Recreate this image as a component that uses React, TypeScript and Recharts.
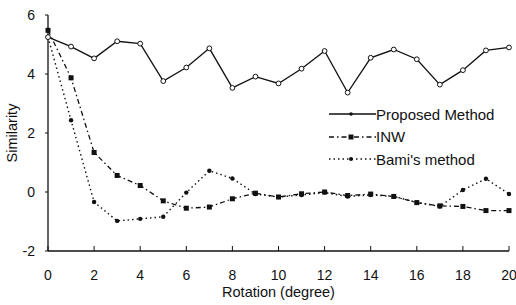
import React from 'react';
import { LineChart, Line, XAxis, YAxis, Legend, Label } from 'recharts';

const rotations = [0, 1, 2, 3, 4, 5, 6, 7, 8, 9, 10, 11, 12, 13, 14, 15, 16, 17, 18, 19, 20];
const proposed = [5.25, 4.93, 4.53, 5.11, 5.03, 3.76, 4.22, 4.87, 3.53, 3.91, 3.68, 4.18, 4.78, 3.37, 4.55, 4.83, 4.5, 3.64, 4.13, 4.8, 4.9];
const inw = [5.48, 3.87, 1.34, 0.56, 0.22, -0.3, -0.55, -0.51, -0.23, -0.04, -0.17, -0.06, 0.0, -0.12, -0.07, -0.15, -0.36, -0.47, -0.49, -0.63, -0.63];
const bami = [5.25, 2.43, -0.34, -0.98, -0.91, -0.84, -0.02, 0.72, 0.46, -0.07, -0.17, -0.1, -0.02, -0.15, -0.1, -0.15, -0.35, -0.49, 0.07, 0.45, -0.07];
const xTicks = [0, 2, 4, 6, 8, 10, 12, 14, 16, 18, 20];
const yTicks = [-2, 0, 2, 4, 6];
const seriesNames = ['Proposed Method', 'INW', "Bami's method"];

const data = rotations.map((r, i) => ({ r, proposed: proposed[i], inw: inw[i], bami: bami[i] }));

const INK = '#111';
const FONT = '"Liberation Sans", Arial, sans-serif';

const OpenDot = (p: any) => (
  <circle key={p.index} cx={p.cx} cy={p.cy} r={2.4} fill="#fff" stroke={INK} strokeWidth={1} />
);
const SquareDot = (p: any) => (
  <rect key={p.index} x={p.cx - 2.5} y={p.cy - 2.5} width={5} height={5} fill={INK} />
);
const FillDot = (p: any) => (
  <circle key={p.index} cx={p.cx} cy={p.cy} r={2.2} fill={INK} />
);

const legendStyles = [
  { dash: undefined, marker: 'open' },
  { dash: '5 3 1.5 3', marker: 'square' },
  { dash: '1.5 3', marker: 'dot' },
];

const renderLegend = () => (
  <div style={{ fontFamily: FONT, fontSize: 15, color: INK }}>
    {seriesNames.map((name, i) => {
      const s = legendStyles[i];
      return (
        <div key={name} style={{ display: 'flex', alignItems: 'center', height: 22.5 }}>
          <svg width={47} height={10} style={{ display: 'block' }}>
            <line x1={0} y1={5} x2={47} y2={5} stroke={INK} strokeWidth={1.3} strokeDasharray={s.dash} />
            {s.marker === 'open' && <circle cx={22} cy={5} r={1.8} fill={INK} />}
            {s.marker === 'square' && <rect x={19.5} y={2.5} width={5} height={5} fill={INK} />}
            {s.marker === 'dot' && <circle cx={22} cy={5} r={2} fill={INK} />}
          </svg>
          <span style={{ lineHeight: '15px' }}>{name}</span>
        </div>
      );
    })}
  </div>
);

export default function App() {
  return (
    <div style={{ position: 'absolute', left: 0, top: 0, background: '#fff' }}>
      <LineChart width={516} height={305} data={data} margin={{ top: 15, right: 7, bottom: 0, left: 0 }}>
        <XAxis
          dataKey="r"
          type="number"
          domain={[0, 20]}
          ticks={xTicks}
          height={54}
          stroke={INK}
          tickSize={-5}
          tickMargin={24}
          tick={{ fill: INK, fontSize: 14, fontFamily: FONT }}
          axisLine={{ stroke: INK, strokeWidth: 1.3 }}
          tickLine={{ stroke: INK }}
        >
          <Label value="Rotation (degree)" position="insideBottom" offset={8} fill={INK} fontSize={14.5} fontFamily={FONT} />
        </XAxis>
        <YAxis
          type="number"
          domain={[-2, 6]}
          ticks={yTicks}
          width={48}
          stroke={INK}
          tickSize={3}
          tickMargin={10}
          tick={{ fill: INK, fontSize: 14, fontFamily: FONT }}
          axisLine={{ stroke: INK, strokeWidth: 1.3 }}
          tickLine={{ stroke: INK }}
        >
          <Label
            content={() => (
              <text x={17} y={133} transform="rotate(-90 17 133)" textAnchor="middle" fill={INK} fontSize={14.5} fontFamily={FONT}>
                Similarity
              </text>
            )}
          />
        </YAxis>
        <Legend
          layout="horizontal"
          verticalAlign="middle"
          align="center"
          content={renderLegend}
          wrapperStyle={{ position: 'absolute', left: 329, top: 103, width: 190 }}
        />
        <Line dataKey="bami" stroke={INK} strokeWidth={1.4} strokeDasharray="1.5 3" dot={FillDot} isAnimationActive={false} />
        <Line dataKey="inw" stroke={INK} strokeWidth={1.3} strokeDasharray="5 3 1.5 3" dot={SquareDot} isAnimationActive={false} />
        <Line dataKey="proposed" stroke={INK} strokeWidth={1.3} dot={OpenDot} isAnimationActive={false} />
      </LineChart>
    </div>
  );
}
